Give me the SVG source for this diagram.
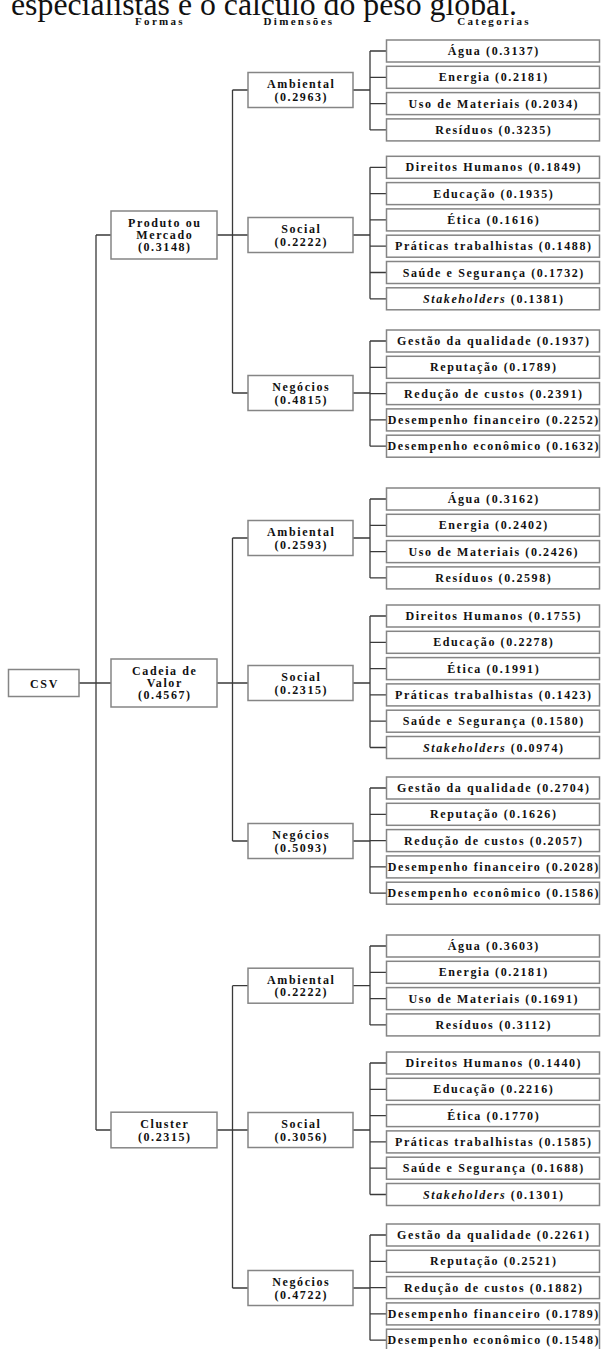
<svg xmlns="http://www.w3.org/2000/svg" width="601" height="1349" viewBox="0 0 601 1349">
<style>
text{font-family:"Liberation Serif","Times New Roman",serif;fill:#111;}
.t{font-size:12px;font-weight:bold;letter-spacing:1.6px;text-anchor:middle;}
.h{font-size:11px;font-weight:bold;letter-spacing:2.3px;text-anchor:middle;}
.title{font-size:31px;}
.box{fill:#fff;stroke:#858585;stroke-width:1.5;}
.cat{fill:#fff;stroke:#858585;stroke-width:1.5;}
.c{fill:none;stroke:#3a3a3a;stroke-width:1.3;}
.i{font-style:italic;}
</style>
<rect width="601" height="1349" fill="#fff"/>
<text class="title" x="11" y="14.5" textLength="506" lengthAdjust="spacingAndGlyphs">especialistas e o cálculo do peso global.</text>
<g id="headers">
<text class="h" x="160" y="25">Formas</text>
<text class="h" x="299" y="25">Dimensões</text>
<text class="h" x="494" y="25">Categorias</text>
</g>
<g id="connectors" class="c">
<path d="M79 683H96M96 235V1130M96 235H111M96 683H111M96 1130H111"/>
<path d="M217 235H248M232.5 90V393M232.5 90H248M232.5 393H248"/>
<path d="M217 683H248M232.5 538V841M232.5 538H248M232.5 841H248"/>
<path d="M217 1130H248M232.5 985.7V1288M232.5 985.7H248M232.5 1288H248"/>
<path d="M353 90H370M370 51V129.9M370 51H386M370 77.3H386M370 103.6H386M370 129.9H386"/>
<path d="M353 235H370M370 167.3V298.8M370 167.3H386M370 193.6H386M370 219.9H386M370 246.2H386M370 272.5H386M370 298.8H386"/>
<path d="M353 393H370M370 341V446.2M370 341H386M370 367.3H386M370 393.6H386M370 419.9H386M370 446.2H386"/>
<path d="M353 538H370M370 499V577.9M370 499H386M370 525.3H386M370 551.6H386M370 577.9H386"/>
<path d="M353 683H370M370 616V747.5M370 616H386M370 642.3H386M370 668.6H386M370 694.9H386M370 721.2H386M370 747.5H386"/>
<path d="M353 841H370M370 788V893.2M370 788H386M370 814.3H386M370 840.6H386M370 866.9H386M370 893.2H386"/>
<path d="M353 985.7H370M370 946V1024.9M370 946H386M370 972.3H386M370 998.6H386M370 1024.9H386"/>
<path d="M353 1130H370M370 1063V1194.5M370 1063H386M370 1089.3H386M370 1115.6H386M370 1141.9H386M370 1168.2H386M370 1194.5H386"/>
<path d="M353 1288H370M370 1235V1340.2M370 1235H386M370 1261.3H386M370 1287.6H386M370 1313.9H386M370 1340.2H386"/>
</g>
<g id="csv"><rect class="box" x="8.5" y="669.5" width="70.5" height="27"/><text class="t" x="44.5" y="687.5">CSV</text></g>
<g id="produto"><rect class="box" x="111" y="211" width="106" height="48"/><text class="t" x="164.8" y="227">Produto ou</text><text class="t" x="164.8" y="238.7">Mercado</text><text class="t" x="164.8" y="251">(0.3148)</text></g>
<g id="cadeia"><rect class="box" x="111" y="659" width="106" height="48"/><text class="t" x="164.8" y="675">Cadeia de</text><text class="t" x="164.8" y="686.7">Valor</text><text class="t" x="164.8" y="699">(0.4567)</text></g>
<g id="cluster"><rect class="box" x="111" y="1112.2" width="106" height="35.6"/><text class="t" x="164.8" y="1128.3">Cluster</text><text class="t" x="164.8" y="1140.5">(0.2315)</text></g>
<g id="amb1"><rect class="box" x="248" y="72.5" width="105" height="35"/><text class="t" x="301.3" y="88.3">Ambiental</text><text class="t" x="301.3" y="100.5">(0.2963)</text></g>
<g id="soc1"><rect class="box" x="248" y="217.5" width="105" height="35"/><text class="t" x="301.3" y="233.3">Social</text><text class="t" x="301.3" y="245.5">(0.2222)</text></g>
<g id="neg1"><rect class="box" x="248" y="375.5" width="105" height="35"/><text class="t" x="301.3" y="391.3">Negócios</text><text class="t" x="301.3" y="403.5">(0.4815)</text></g>
<g id="amb2"><rect class="box" x="248" y="520.5" width="105" height="35"/><text class="t" x="301.3" y="536.3">Ambiental</text><text class="t" x="301.3" y="548.5">(0.2593)</text></g>
<g id="soc2"><rect class="box" x="248" y="665.5" width="105" height="35"/><text class="t" x="301.3" y="681.3">Social</text><text class="t" x="301.3" y="693.5">(0.2315)</text></g>
<g id="neg2"><rect class="box" x="248" y="823.5" width="105" height="35"/><text class="t" x="301.3" y="839.3">Negócios</text><text class="t" x="301.3" y="851.5">(0.5093)</text></g>
<g id="amb3"><rect class="box" x="248" y="968.2" width="105" height="35"/><text class="t" x="301.3" y="984">Ambiental</text><text class="t" x="301.3" y="996.2">(0.2222)</text></g>
<g id="soc3"><rect class="box" x="248" y="1112.5" width="105" height="35"/><text class="t" x="301.3" y="1128.3">Social</text><text class="t" x="301.3" y="1140.5">(0.3056)</text></g>
<g id="neg3"><rect class="box" x="248" y="1270.5" width="105" height="35"/><text class="t" x="301.3" y="1286.3">Negócios</text><text class="t" x="301.3" y="1298.5">(0.4722)</text></g>
<g id="cat-g1-amb">
<rect class="cat" x="386.5" y="40" width="213" height="22"/><text class="t" x="493.8" y="55">Água (0.3137)</text>
<rect class="cat" x="386.5" y="66.3" width="213" height="22"/><text class="t" x="493.8" y="81.3">Energia (0.2181)</text>
<rect class="cat" x="386.5" y="92.6" width="213" height="22"/><text class="t" x="493.8" y="107.6">Uso de Materiais (0.2034)</text>
<rect class="cat" x="386.5" y="118.9" width="213" height="22"/><text class="t" x="493.8" y="133.9">Resíduos (0.3235)</text>
</g>
<g id="cat-g1-soc">
<rect class="cat" x="386.5" y="156.3" width="213" height="22"/><text class="t" x="493.8" y="171.3">Direitos Humanos (0.1849)</text>
<rect class="cat" x="386.5" y="182.6" width="213" height="22"/><text class="t" x="493.8" y="197.6">Educação (0.1935)</text>
<rect class="cat" x="386.5" y="208.9" width="213" height="22"/><text class="t" x="493.8" y="223.9">Ética (0.1616)</text>
<rect class="cat" x="386.5" y="235.2" width="213" height="22"/><text class="t" x="493.8" y="250.2">Práticas trabalhistas (0.1488)</text>
<rect class="cat" x="386.5" y="261.5" width="213" height="22"/><text class="t" x="493.8" y="276.5">Saúde e Segurança (0.1732)</text>
<rect class="cat" x="386.5" y="287.8" width="213" height="22"/><text class="t" x="493.8" y="302.8"><tspan class="i">Stakeholders</tspan> (0.1381)</text>
</g>
<g id="cat-g1-neg">
<rect class="cat" x="386.5" y="330" width="213" height="22"/><text class="t" x="493.8" y="345">Gestão da qualidade (0.1937)</text>
<rect class="cat" x="386.5" y="356.3" width="213" height="22"/><text class="t" x="493.8" y="371.3">Reputação (0.1789)</text>
<rect class="cat" x="386.5" y="382.6" width="213" height="22"/><text class="t" x="493.8" y="397.6">Redução de custos (0.2391)</text>
<rect class="cat" x="386.5" y="408.9" width="213" height="22"/><text class="t" x="493.8" y="423.9">Desempenho financeiro (0.2252)</text>
<rect class="cat" x="386.5" y="435.2" width="213" height="22"/><text class="t" x="493.8" y="450.2">Desempenho econômico (0.1632)</text>
</g>
<g id="cat-g2-amb">
<rect class="cat" x="386.5" y="488" width="213" height="22"/><text class="t" x="493.8" y="503">Água (0.3162)</text>
<rect class="cat" x="386.5" y="514.3" width="213" height="22"/><text class="t" x="493.8" y="529.3">Energia (0.2402)</text>
<rect class="cat" x="386.5" y="540.6" width="213" height="22"/><text class="t" x="493.8" y="555.6">Uso de Materiais (0.2426)</text>
<rect class="cat" x="386.5" y="566.9" width="213" height="22"/><text class="t" x="493.8" y="581.9">Resíduos (0.2598)</text>
</g>
<g id="cat-g2-soc">
<rect class="cat" x="386.5" y="605" width="213" height="22"/><text class="t" x="493.8" y="620">Direitos Humanos (0.1755)</text>
<rect class="cat" x="386.5" y="631.3" width="213" height="22"/><text class="t" x="493.8" y="646.3">Educação (0.2278)</text>
<rect class="cat" x="386.5" y="657.6" width="213" height="22"/><text class="t" x="493.8" y="672.6">Ética (0.1991)</text>
<rect class="cat" x="386.5" y="683.9" width="213" height="22"/><text class="t" x="493.8" y="698.9">Práticas trabalhistas (0.1423)</text>
<rect class="cat" x="386.5" y="710.2" width="213" height="22"/><text class="t" x="493.8" y="725.2">Saúde e Segurança (0.1580)</text>
<rect class="cat" x="386.5" y="736.5" width="213" height="22"/><text class="t" x="493.8" y="751.5"><tspan class="i">Stakeholders</tspan> (0.0974)</text>
</g>
<g id="cat-g2-neg">
<rect class="cat" x="386.5" y="777" width="213" height="22"/><text class="t" x="493.8" y="792">Gestão da qualidade (0.2704)</text>
<rect class="cat" x="386.5" y="803.3" width="213" height="22"/><text class="t" x="493.8" y="818.3">Reputação (0.1626)</text>
<rect class="cat" x="386.5" y="829.6" width="213" height="22"/><text class="t" x="493.8" y="844.6">Redução de custos (0.2057)</text>
<rect class="cat" x="386.5" y="855.9" width="213" height="22"/><text class="t" x="493.8" y="870.9">Desempenho financeiro (0.2028)</text>
<rect class="cat" x="386.5" y="882.2" width="213" height="22"/><text class="t" x="493.8" y="897.2">Desempenho econômico (0.1586)</text>
</g>
<g id="cat-g3-amb">
<rect class="cat" x="386.5" y="935" width="213" height="22"/><text class="t" x="493.8" y="950">Água (0.3603)</text>
<rect class="cat" x="386.5" y="961.3" width="213" height="22"/><text class="t" x="493.8" y="976.3">Energia (0.2181)</text>
<rect class="cat" x="386.5" y="987.6" width="213" height="22"/><text class="t" x="493.8" y="1002.6">Uso de Materiais (0.1691)</text>
<rect class="cat" x="386.5" y="1013.9" width="213" height="22"/><text class="t" x="493.8" y="1028.9">Resíduos (0.3112)</text>
</g>
<g id="cat-g3-soc">
<rect class="cat" x="386.5" y="1052" width="213" height="22"/><text class="t" x="493.8" y="1067">Direitos Humanos (0.1440)</text>
<rect class="cat" x="386.5" y="1078.3" width="213" height="22"/><text class="t" x="493.8" y="1093.3">Educação (0.2216)</text>
<rect class="cat" x="386.5" y="1104.6" width="213" height="22"/><text class="t" x="493.8" y="1119.6">Ética (0.1770)</text>
<rect class="cat" x="386.5" y="1130.9" width="213" height="22"/><text class="t" x="493.8" y="1145.9">Práticas trabalhistas (0.1585)</text>
<rect class="cat" x="386.5" y="1157.2" width="213" height="22"/><text class="t" x="493.8" y="1172.2">Saúde e Segurança (0.1688)</text>
<rect class="cat" x="386.5" y="1183.5" width="213" height="22"/><text class="t" x="493.8" y="1198.5"><tspan class="i">Stakeholders</tspan> (0.1301)</text>
</g>
<g id="cat-g3-neg">
<rect class="cat" x="386.5" y="1224" width="213" height="22"/><text class="t" x="493.8" y="1239">Gestão da qualidade (0.2261)</text>
<rect class="cat" x="386.5" y="1250.3" width="213" height="22"/><text class="t" x="493.8" y="1265.3">Reputação (0.2521)</text>
<rect class="cat" x="386.5" y="1276.6" width="213" height="22"/><text class="t" x="493.8" y="1291.6">Redução de custos (0.1882)</text>
<rect class="cat" x="386.5" y="1302.9" width="213" height="22"/><text class="t" x="493.8" y="1317.9">Desempenho financeiro (0.1789)</text>
<rect class="cat" x="386.5" y="1329.2" width="213" height="22"/><text class="t" x="493.8" y="1344.2">Desempenho econômico (0.1548)</text>
</g>
</svg>
